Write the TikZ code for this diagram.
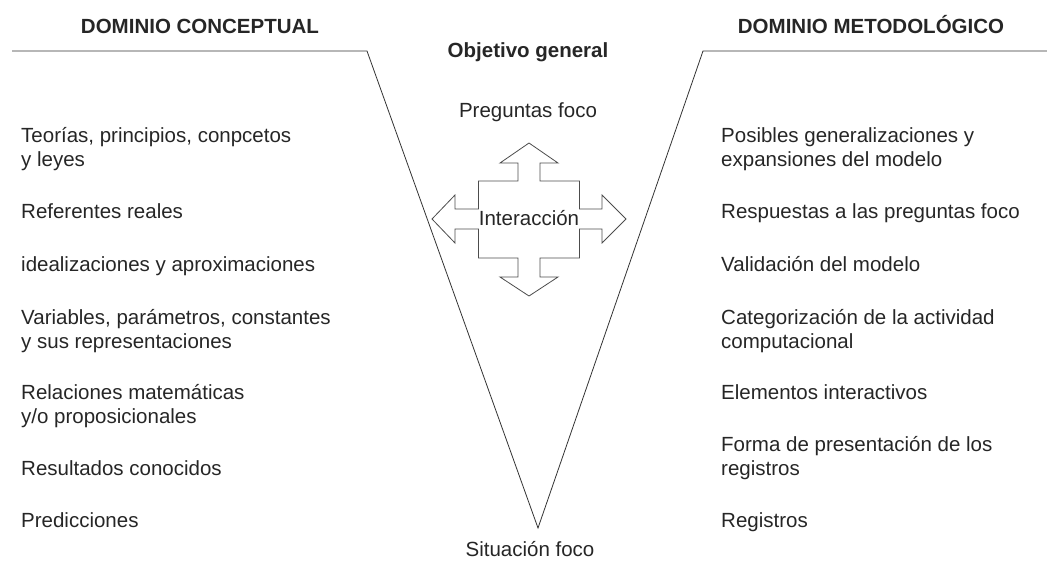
\documentclass[tikz,border=0pt]{standalone}
\usepackage{fontspec}
\setmainfont{Liberation Sans}
\begin{document}
\begin{tikzpicture}[x=1pt,y=-1pt,
  txt/.style={inner sep=0pt, text=black!85, font=\fontsize{20.5}{24}\selectfont},
  item/.style={txt, anchor=base west},
  title/.style={txt, anchor=base, font=\fontsize{20.5}{24}\selectfont\bfseries},
  center/.style={txt, anchor=base},
  vline/.style={draw=black!80, line width=0.8pt},
  cross/.style={draw=black!70, line width=0.8pt, line join=miter}]
\useasboundingbox (0,0) rectangle (1047,563);

% V shape
\coordinate (L0) at (12,51);
\coordinate (L1) at (367,51);
\coordinate (B) at (538,528);
\coordinate (R1) at (703,51);
\coordinate (R0) at (1047,51);
\draw[vline] (L0) -- (L1) -- (B) -- (R1) -- (R0);

% titles
\node[title] (tc) at (200,33) {DOMINIO CONCEPTUAL};
\node[title] (tm) at (871,33) {DOMINIO METODOLÓGICO};
\node[title] (og) at (528,57) {Objetivo general};
\node[center] (pf) at (528,117) {Preguntas foco};
\node[center] (sf) at (530,556) {Situación foco};

% four-way arrow
\draw[cross] (529,143) -- (558,163) -- (540,163) -- (540,181) -- (579.5,181)
  -- (579.5,209) -- (602,209) -- (602,195) -- (626,219) -- (602,243) -- (602,229)
  -- (579.5,229) -- (579.5,258) -- (540,258) -- (540,277) -- (558,277) -- (529,296)
  -- (500,277) -- (518,277) -- (518,258) -- (478.5,258) -- (478.5,229) -- (455,229)
  -- (455,243) -- (432,219) -- (455,195) -- (455,209) -- (478.5,209) -- (478.5,181)
  -- (518,181) -- (518,163) -- (500,163) -- cycle;
\node[center] (int) at (529,225) {Interacción};

% left column
\node[item] (l1) at (21,142) {\begin{tabular}[t]{@{}l@{}}Teorías, principios, conpcetos\\y leyes\end{tabular}};
\node[item] (l2) at (21,218) {Referentes reales};
\node[item] (l3) at (21,271) {idealizaciones y aproximaciones};
\node[item] (l4) at (21,324) {\begin{tabular}[t]{@{}l@{}}Variables, parámetros, constantes\\y sus representaciones\end{tabular}};
\node[item] (l5) at (21,399) {\begin{tabular}[t]{@{}l@{}}Relaciones matemáticas\\y/o proposicionales\end{tabular}};
\node[item] (l6) at (21,475) {Resultados conocidos};
\node[item] (l7) at (21,527) {Predicciones};

% right column
\node[item] (r1) at (721,142) {\begin{tabular}[t]{@{}l@{}}Posibles generalizaciones y\\expansiones del modelo\end{tabular}};
\node[item] (r2) at (721,218) {Respuestas a las preguntas foco};
\node[item] (r3) at (721,271) {Validación del modelo};
\node[item] (r4) at (721,324) {\begin{tabular}[t]{@{}l@{}}Categorización de la actividad\\computacional\end{tabular}};
\node[item] (r5) at (721,399) {Elementos interactivos};
\node[item] (r6) at (721,451) {\begin{tabular}[t]{@{}l@{}}Forma de presentación de los\\registros\end{tabular}};
\node[item] (r7) at (721,527) {Registros};
\end{tikzpicture}
\end{document}
